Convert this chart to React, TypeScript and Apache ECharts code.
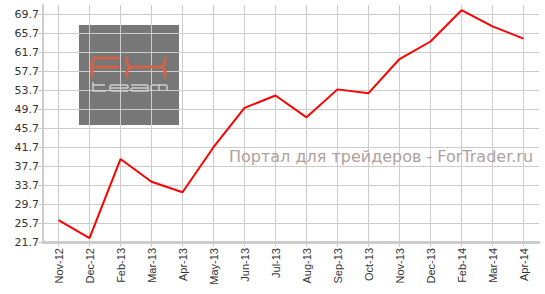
import React, { useEffect, useRef } from "react";
import * as echarts from "echarts";

const categories = [
  "Nov-12", "Dec-12", "Feb-13", "Mar-13", "Apr-13", "May-13", "Jun-13", "Jul-13",
  "Aug-13", "Sep-13", "Oct-13", "Nov-13", "Dec-13", "Feb-14", "Mar-14", "Apr-14",
];
const values = [
  26.3, 22.5, 39.2, 34.4, 32.2, 41.7, 50.0, 52.6,
  48.0, 53.9, 53.1, 60.3, 64.0, 70.6, 67.2, 64.6,
];
const yMin = 21.7;
const yMax = 71.7;
const yStep = 4;
const watermark = "Портал для трейдеров - ForTrader.ru";

export default function App() {
  const ref = useRef<HTMLDivElement>(null);
  useEffect(() => {
    if (!ref.current) return;
    const chart = echarts.init(ref.current, null, { renderer: "svg" });
    const red = "#d2634b";
    const grey = "#cfcfcf";
    const pl = (points: number[][], color: string, w: number) => ({
      type: "polyline",
      z: 20,
      shape: { points },
      style: { stroke: color, lineWidth: w, fill: "none", lineJoin: "round" },
    });
    chart.setOption({
      animation: false,
      backgroundColor: "#fff",
      grid: { left: 43, right: 6, top: 5, bottom: 52 },
      xAxis: {
        type: "category",
        data: categories,
        boundaryGap: true,
        axisLine: { show: true, lineStyle: { color: "#cccccc", width: 3 } },
        axisTick: { show: true, alignWithLabel: true, length: 5, lineStyle: { color: "#cccccc", width: 1 } },
        axisLabel: { rotate: 90, fontSize: 11, fontFamily: "Liberation Sans", color: "#333", margin: 6, interval: 0 },
        splitLine: { show: false },
      },
      yAxis: {
        type: "value",
        min: yMin,
        max: yMax,
        interval: yStep,
        axisLine: { show: true, lineStyle: { color: "#cccccc", width: 2 } },
        axisTick: { show: true, length: 5, lineStyle: { color: "#cccccc" } },
        axisLabel: {
          fontSize: 11,
          fontFamily: "DejaVu Sans",
          color: "#333",
          margin: 4,
          showMaxLabel: false,
          formatter: (v: number) => v.toFixed(1),
        },
        splitLine: { show: true, showMaxLine: false, showMinLine: false, lineStyle: { color: "#cccccc", width: 1 } },
      },
      graphic: [
        { type: "rect", z: -10, shape: { x: 79, y: 25, width: 100, height: 100 }, style: { fill: "#777777" } },
        // F
        pl([[92, 78], [92, 61], [95, 58], [120, 58]], red, 3),
        pl([[92, 67], [119, 67]], red, 3),
        // X
        pl([[127, 57], [127, 63], [130, 67], [162, 67], [165, 63], [165, 57]], red, 3),
        pl([[127, 78], [127, 71], [130, 67]], red, 3),
        pl([[165, 78], [165, 71], [162, 67]], red, 3),
        // team
        pl([[93, 82], [93, 91], [106, 91]], grey, 1.5),
        pl([[93, 85], [105, 85]], grey, 1.5),
        pl([[128, 91], [111, 91], [110, 90], [110, 86], [111, 85], [127, 85], [128, 86], [128, 88], [110, 88]], grey, 1.5),
        pl([[131, 85], [147, 85], [148, 86], [148, 91], [132, 91], [131, 90], [131, 89], [132, 88], [148, 88]], grey, 1.5),
        pl([[151, 91], [151, 86], [152, 85], [166, 85], [167, 86], [167, 91]], grey, 1.5),
        pl([[159, 85], [159, 91]], grey, 1.5),
        {
          type: "text", z: 20, x: 229, y: 148,
          style: { text: watermark, fill: "#b0a0a0", font: "16px 'DejaVu Sans'" },
        },
      ],
      series: [
        {
          type: "line",
          z: 3,
          data: values,
          symbol: "none",
          lineStyle: { color: "#ff0000", width: 2 },
          markLine: {
            z: 1,
            silent: true,
            animation: false,
            symbol: ["none", "none"],
            label: { show: false },
            lineStyle: { color: "#cccccc", type: "solid", width: 1 },
            data: categories.map((c) => ({ xAxis: c })),
          },
        },
      ],
    });
    return () => chart.dispose();
  }, []);
  return <div ref={ref} style={{ position: "fixed", left: 0, top: 0, width: 545, height: 294 }} />;
}
